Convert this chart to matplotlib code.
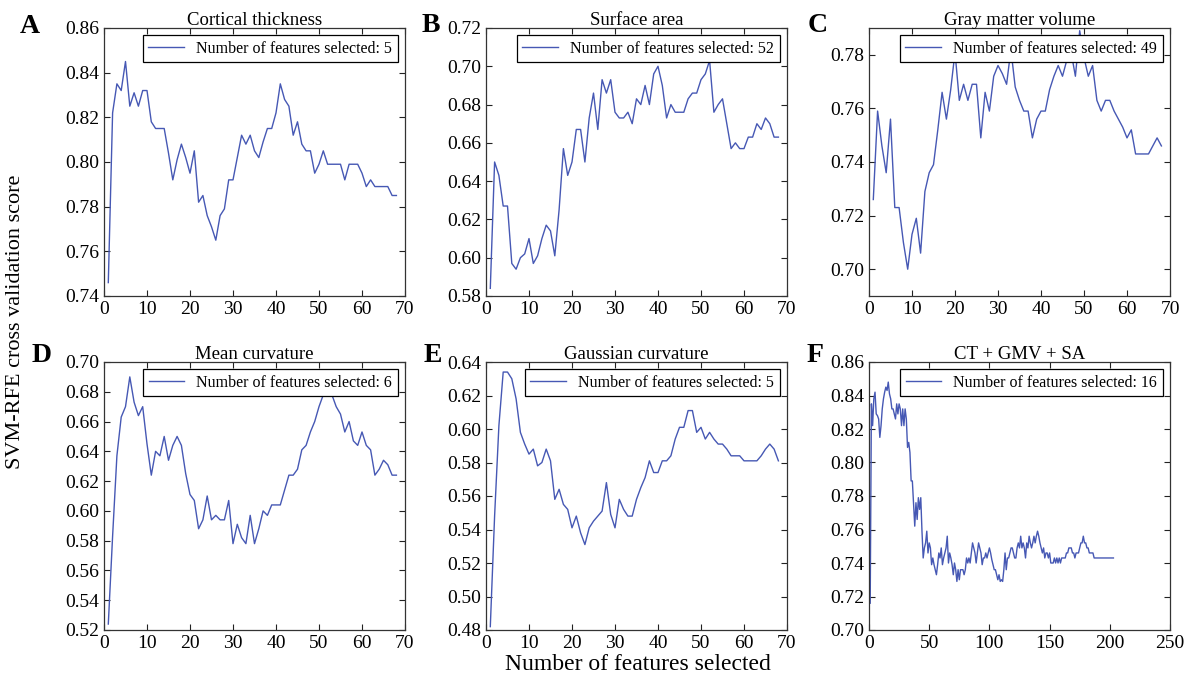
import matplotlib
matplotlib.use("Agg")
import matplotlib.pyplot as plt
from matplotlib.ticker import FormatStrFormatter

plt.rcParams['font.family'] = ['Liberation Serif', 'DejaVu Serif']

# cross validation scores, one value per number of features kept
ct_scores = [0.746, 0.822, 0.835, 0.832, 0.845, 0.825, 0.831, 0.825, 0.832, 0.832,
             0.818, 0.815, 0.815, 0.815, 0.804, 0.792, 0.801, 0.808, 0.802, 0.795,
             0.805, 0.782, 0.785, 0.776, 0.771, 0.765, 0.776, 0.779, 0.792, 0.792,
             0.802, 0.812, 0.808, 0.812, 0.805, 0.802, 0.809, 0.815, 0.815, 0.822,
             0.835, 0.828, 0.825, 0.812, 0.818, 0.808, 0.805, 0.805, 0.795, 0.799,
             0.805, 0.799, 0.799, 0.799, 0.799, 0.792, 0.799, 0.799, 0.799, 0.795,
             0.789, 0.792, 0.789, 0.789, 0.789, 0.789, 0.785, 0.785]

sa_scores = [0.584, 0.650, 0.643, 0.627, 0.627, 0.597, 0.594, 0.600, 0.602, 0.610,
             0.597, 0.601, 0.610, 0.617, 0.614, 0.601, 0.625, 0.657, 0.643, 0.650,
             0.667, 0.667, 0.650, 0.673, 0.686, 0.667, 0.693, 0.686, 0.693, 0.676,
             0.673, 0.673, 0.676, 0.670, 0.683, 0.680, 0.690, 0.680, 0.696, 0.700,
             0.690, 0.673, 0.680, 0.676, 0.676, 0.676, 0.683, 0.686, 0.686, 0.693,
             0.696, 0.703, 0.676, 0.680, 0.683, 0.670, 0.657, 0.660, 0.657, 0.657,
             0.663, 0.663, 0.670, 0.667, 0.673, 0.670, 0.663, 0.663]

gmv_scores = [0.726, 0.759, 0.746, 0.736, 0.756, 0.723, 0.723, 0.710, 0.700, 0.713,
              0.719, 0.706, 0.729, 0.736, 0.739, 0.752, 0.766, 0.756, 0.767, 0.781,
              0.763, 0.769, 0.763, 0.769, 0.769, 0.749, 0.766, 0.759, 0.772, 0.776,
              0.773, 0.769, 0.782, 0.768, 0.763, 0.759, 0.759, 0.749, 0.756, 0.759,
              0.759, 0.767, 0.772, 0.776, 0.772, 0.778, 0.781, 0.772, 0.789, 0.779,
              0.772, 0.776, 0.763, 0.759, 0.763, 0.763, 0.759, 0.756, 0.753, 0.749,
              0.752, 0.743, 0.743, 0.743, 0.743, 0.746, 0.749, 0.746]

mc_scores = [0.524, 0.583, 0.637, 0.663, 0.670, 0.690, 0.673, 0.664, 0.670, 0.645,
             0.624, 0.640, 0.637, 0.650, 0.634, 0.644, 0.650, 0.644, 0.625, 0.611,
             0.607, 0.588, 0.594, 0.610, 0.594, 0.597, 0.594, 0.594, 0.607, 0.578,
             0.591, 0.582, 0.578, 0.597, 0.578, 0.588, 0.600, 0.597, 0.604, 0.604,
             0.604, 0.614, 0.624, 0.624, 0.628, 0.641, 0.644, 0.653, 0.660, 0.670,
             0.678, 0.683, 0.678, 0.670, 0.665, 0.653, 0.660, 0.647, 0.644, 0.653,
             0.644, 0.641, 0.624, 0.628, 0.634, 0.631, 0.624, 0.624]

gc_scores = [0.482, 0.548, 0.602, 0.634, 0.634, 0.630, 0.618, 0.598, 0.591, 0.585,
             0.588, 0.578, 0.580, 0.588, 0.581, 0.558, 0.564, 0.555, 0.552, 0.541,
             0.548, 0.538, 0.531, 0.541, 0.545, 0.548, 0.551, 0.568, 0.549, 0.541,
             0.558, 0.552, 0.548, 0.548, 0.558, 0.565, 0.571, 0.581, 0.574, 0.574,
             0.581, 0.581, 0.584, 0.594, 0.601, 0.601, 0.611, 0.611, 0.598, 0.601,
             0.594, 0.598, 0.594, 0.591, 0.591, 0.588, 0.584, 0.584, 0.584, 0.581,
             0.581, 0.581, 0.581, 0.584, 0.588, 0.591, 0.588, 0.581]

combo_scores = [0.716, 0.835, 0.822, 0.838, 0.842, 0.829, 0.828, 0.826, 0.815, 0.822,
                0.832, 0.838, 0.842, 0.845, 0.843, 0.848, 0.841, 0.838, 0.832, 0.832,
                0.829, 0.826, 0.835, 0.829, 0.835, 0.832, 0.822, 0.832, 0.822, 0.832,
                0.826, 0.809, 0.812, 0.806, 0.789, 0.789, 0.776, 0.762, 0.776, 0.766,
                0.779, 0.772, 0.779, 0.759, 0.743, 0.749, 0.752, 0.759, 0.746, 0.752,
                0.749, 0.739, 0.743, 0.739, 0.736, 0.733, 0.739, 0.746, 0.743, 0.749,
                0.739, 0.743, 0.746, 0.749, 0.756, 0.740, 0.746, 0.743, 0.739, 0.733,
                0.740, 0.736, 0.729, 0.736, 0.730, 0.736, 0.736, 0.736, 0.733, 0.736,
                0.743, 0.740, 0.743, 0.740, 0.746, 0.752, 0.749, 0.746, 0.740, 0.746,
                0.752, 0.749, 0.746, 0.739, 0.743, 0.743, 0.746, 0.743, 0.746, 0.749,
                0.746, 0.742, 0.739, 0.736, 0.736, 0.733, 0.730, 0.733, 0.729, 0.730,
                0.729, 0.736, 0.746, 0.736, 0.743, 0.743, 0.746, 0.749, 0.749, 0.746,
                0.743, 0.743, 0.749, 0.752, 0.749, 0.756, 0.749, 0.752, 0.749, 0.743,
                0.752, 0.749, 0.756, 0.752, 0.749, 0.752, 0.756, 0.752, 0.756, 0.759,
                0.756, 0.752, 0.749, 0.746, 0.749, 0.743, 0.746, 0.746, 0.743, 0.746,
                0.740, 0.740, 0.740, 0.743, 0.740, 0.743, 0.740, 0.743, 0.740, 0.743,
                0.743, 0.743, 0.743, 0.746, 0.746, 0.749, 0.749, 0.749, 0.746, 0.746,
                0.743, 0.746, 0.746, 0.746, 0.749, 0.752, 0.752, 0.756, 0.752, 0.752,
                0.749, 0.749, 0.746, 0.746, 0.746, 0.746, 0.743, 0.743, 0.743, 0.743,
                0.743, 0.743, 0.743, 0.743, 0.743, 0.743, 0.743, 0.743, 0.743, 0.743,
                0.743, 0.743, 0.743]

titles = ['Cortical thickness', 'Surface area', 'Gray matter volume',
          'Mean curvature', 'Gaussian curvature', 'CT + GMV + SA']
letters = ['A', 'B', 'C', 'D', 'E', 'F']
best_n = [5, 52, 49, 6, 5, 16]
series = [ct_scores, sa_scores, gmv_scores, mc_scores, gc_scores, combo_scores]
ylims = [(0.74, 0.86), (0.58, 0.72), (0.69, 0.79), (0.52, 0.70), (0.48, 0.64), (0.70, 0.86)]
xmax = [70, 70, 70, 70, 70, 250]

W, H = 1187, 684
fig = plt.figure(figsize=(W / 100, H / 100), dpi=100)

lefts = [104, 486, 869]
tops = [28, 362]
aw, ah = 301, 268
# panel letter positions (left, top) in pixels
letter_pos = [(20, 14), (422, 13), (808, 13), (32, 343), (424, 343), (807, 343)]
line_color = '#4658b4'

for i in range(6):
    r, c = divmod(i, 3)
    ax = fig.add_axes([lefts[c] / W, 1 - (tops[r] + ah) / H, aw / W, ah / H])
    y = series[i]
    x = list(range(1, len(y) + 1))
    ax.plot(x, y, color=line_color, lw=1.0,
            label='Number of features selected: %d' % best_n[i])
    ax.set_xlim(0, xmax[i])
    ax.set_ylim(*ylims[i])
    if xmax[i] == 250:
        ax.set_xticks(range(0, 251, 50))
    else:
        ax.set_xticks(range(0, 71, 10))
    lo, hi = ylims[i]
    if i == 2:
        ax.set_yticks([0.70, 0.72, 0.74, 0.76, 0.78])
    else:
        n = int(round((hi - lo) / 0.02))
        ax.set_yticks([round(lo + 0.02 * k, 2) for k in range(n + 1)])
    ax.yaxis.set_major_formatter(FormatStrFormatter('%.2f'))
    ax.tick_params(direction='in', top=True, right=True, labelsize=14,
                   length=4, width=0.8, colors='#222222', labelcolor='black')
    for s in ax.spines.values():
        s.set_linewidth(0.9)
        s.set_color('#333333')
    ax.set_title(titles[i], fontsize=13.5, pad=2)
    leg = ax.legend(loc='upper right', fontsize=11.5, fancybox=False,
                    framealpha=1, edgecolor='black', handlelength=2.2,
                    borderaxespad=0.45, borderpad=0.35)
    leg.get_frame().set_linewidth(0.9)
    lx, ly = letter_pos[i]
    fig.text(lx / W, 1 - ly / H, letters[i], fontsize=20, fontweight='bold',
             va='top', ha='left')

fig.text(16 / W, 1 - 322 / H, 'SVM-RFE cross validation score', rotation=90,
         fontsize=16, va='center', ha='center')
fig.text(638 / W, 1 - 665 / H, 'Number of features selected',
         fontsize=17, va='center', ha='center')

fig.savefig('out.png', dpi=100)
